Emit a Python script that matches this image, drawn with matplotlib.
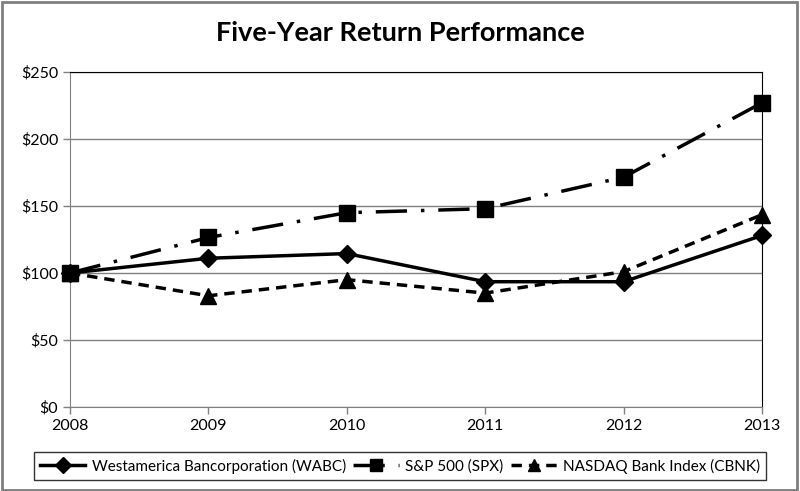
import matplotlib.pyplot as plt
from matplotlib.ticker import FuncFormatter
from matplotlib.patches import Rectangle

# Data
years = [2008, 2009, 2010, 2011, 2012, 2013]
wabc = [100, 111, 114.5, 93.5, 93.5, 128]
spx = [100, 126.5, 145, 148, 171.5, 227]
cbnk = [100, 83, 95, 85, 101, 143.5]
labels = ["Westamerica Bancorporation (WABC)", "S&P 500 (SPX)",
          "NASDAQ Bank Index (CBNK)"]

plt.rcParams['font.family'] = ['Lato', 'DejaVu Sans']

fig = plt.figure(figsize=(8, 4.91), dpi=100)
ax = fig.add_axes([70/800, 1-407/491, (762-70)/800, (407-72)/491])

ax.plot(years, wabc, color="black", lw=2.5, marker="D", ms=9,
        label=labels[0], clip_on=False, zorder=4)
ax.plot(years, spx, color="black", lw=2.5, marker="s", ms=12,
        dashes=(9, 4, 1, 4), label=labels[1], clip_on=False, zorder=3)
ax.plot(years, cbnk, color="black", lw=2.5, marker="^", ms=12,
        dashes=(3, 2), label=labels[2], clip_on=False, zorder=3)

ax.set_xlim(2008, 2013)
ax.set_ylim(0, 250)
ax.set_xticks(years)
ax.set_yticks(range(0, 251, 50))
ax.yaxis.set_major_formatter(FuncFormatter(lambda v, p: "$%d" % v))
ax.grid(axis="y", color="#808080", lw=1)
ax.set_axisbelow(True)
ax.tick_params(labelsize=11.5, length=5, color="#808080", width=1)
ax.tick_params(axis="x", pad=4)

for s in ["left", "bottom"]:
    ax.spines[s].set_color("#808080")
for s in ["top", "right"]:
    ax.spines[s].set_color("black")

fig.text(0.5, 1-33/491, "Five-Year Return Performance", ha="center",
         va="center", fontsize=19.5, fontweight="bold")

leg = fig.legend(loc="center", bbox_to_anchor=(0.5, 1-466/491), ncol=3,
                 frameon=True, fancybox=False, fontsize=11,
                 handlelength=3, columnspacing=0.5, handletextpad=0.4,
                 borderpad=0.4)
leg.get_frame().set_edgecolor("black")
leg.get_frame().set_linewidth(1)
for h in leg.legend_handles:
    h.set_markersize(8)

fig.patches.append(Rectangle((0.002, 0.003), 0.994, 0.993,
                             transform=fig.transFigure, fill=False,
                             edgecolor="#808080", lw=2))

fig.savefig("out.png", dpi=100)
